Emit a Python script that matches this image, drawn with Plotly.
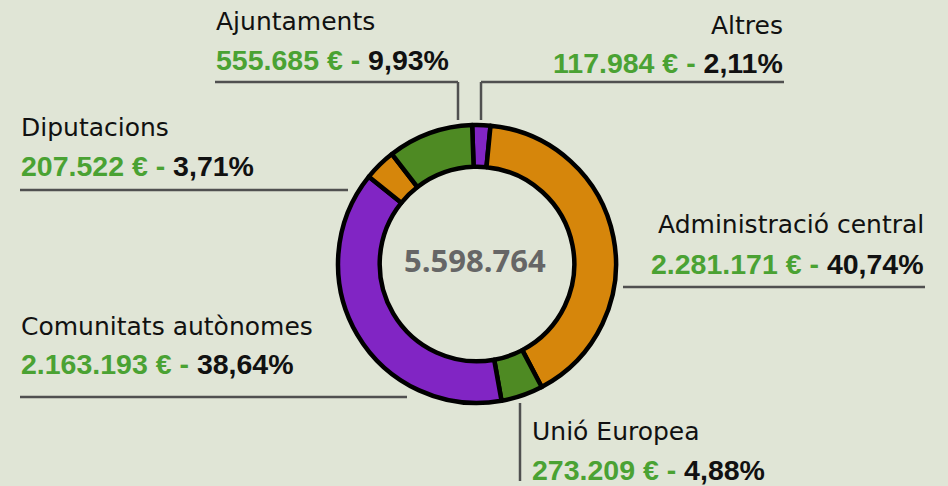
import plotly.graph_objects as go

W, H = 948, 486

# ---- data ----
labels = ["Altres", "Administració central", "Unió Europea",
          "Comunitats autònomes", "Diputacions", "Ajuntaments"]
values = [117984, 2281171, 273209, 2163193, 207522, 555685]
slice_colors = ["#8125c4", "#d6860b", "#4e8a23", "#8125c4", "#d6860b", "#4e8a23"]

total = sum(values)


def fmt_int(v):
    return f"{v:,}".replace(",", ".")


def fmt_pct(v):
    return f"{100 * v / total:.2f}".replace(".", ",") + "%"


BG = "#e0e5d6"
GREEN_TXT = "#4aa233"
LINE_C = "#505050"


def px(x):
    return x / W


def py(y):
    return 1 - y / H


# donut geometry (pixels)
CX, CY, R = 477, 264, 139

fig = go.Figure()
fig.add_trace(go.Pie(
    labels=labels,
    values=values,
    sort=False,
    direction="clockwise",
    rotation=-2,
    hole=0.70,
    marker=dict(colors=slice_colors, line=dict(color="#000000", width=4.5)),
    textinfo="none",
    hoverinfo="label+value+percent",
    showlegend=False,
    domain=dict(x=[px(CX - R), px(CX + R)], y=[py(CY + R), py(CY - R)]),
))

# label placement: (anchor, x, name_y, value_y) in pixels
label_pos = {
    "Ajuntaments": ("left", 214, 21.5, 59.5),
    "Altres": ("right", 785, 25, 63),
    "Diputacions": ("left", 19, 127.5, 166.5),
    "Comunitats autònomes": ("left", 19, 326, 363.5),
    "Administració central": ("right", 926, 224, 263.5),
    "Unió Europea": ("left", 530, 431, 469.5),
}

annotations = []
for lab, val in zip(labels, values):
    anchor, x, ny, vy = label_pos[lab]
    annotations.append(dict(
        x=px(x), y=py(ny), xref="paper", yref="paper",
        xanchor=anchor, yanchor="middle", showarrow=False,
        text=lab, font=dict(family="DejaVu Sans", size=25, color="#111111"),
    ))
    annotations.append(dict(
        x=px(x), y=py(vy), xref="paper", yref="paper",
        xanchor=anchor, yanchor="middle", showarrow=False,
        text=f"<b><span style='color:{GREEN_TXT}'>{fmt_int(val)} € -</span> {fmt_pct(val)}</b>",
        font=dict(family="Liberation Sans", size=28.5, color="#111111"),
    ))

# centre total
annotations.append(dict(
    x=px(475), y=py(260), xref="paper", yref="paper",
    xanchor="center", yanchor="middle", showarrow=False,
    text=f"<b>{fmt_int(total)}</b>",
    font=dict(family="Open Sans", size=31, color="#666666"),
))

# leader lines (pixel paths)
leaders = [
    [(215, 82), (458, 82), (458, 120)],
    [(784, 82), (481, 82), (481, 120)],
    [(20, 190), (348, 190)],
    [(20, 397), (407, 397)],
    [(925, 287), (623, 287)],
    [(520, 403), (520, 481)],
]
shapes = []
for pts in leaders:
    for (x0, y0), (x1, y1) in zip(pts[:-1], pts[1:]):
        shapes.append(dict(
            type="line", xref="paper", yref="paper",
            x0=px(x0), y0=py(y0), x1=px(x1), y1=py(y1),
            line=dict(color=LINE_C, width=2.5),
        ))

fig.update_layout(
    width=W, height=H,
    margin=dict(l=0, r=0, t=0, b=0),
    paper_bgcolor=BG, plot_bgcolor=BG,
    annotations=annotations,
    shapes=shapes,
)

fig.write_html(
    "out.html",
    config={"displayModeBar": False},
    post_script="document.body.style.margin='0';document.body.style.overflow='hidden';",
)
